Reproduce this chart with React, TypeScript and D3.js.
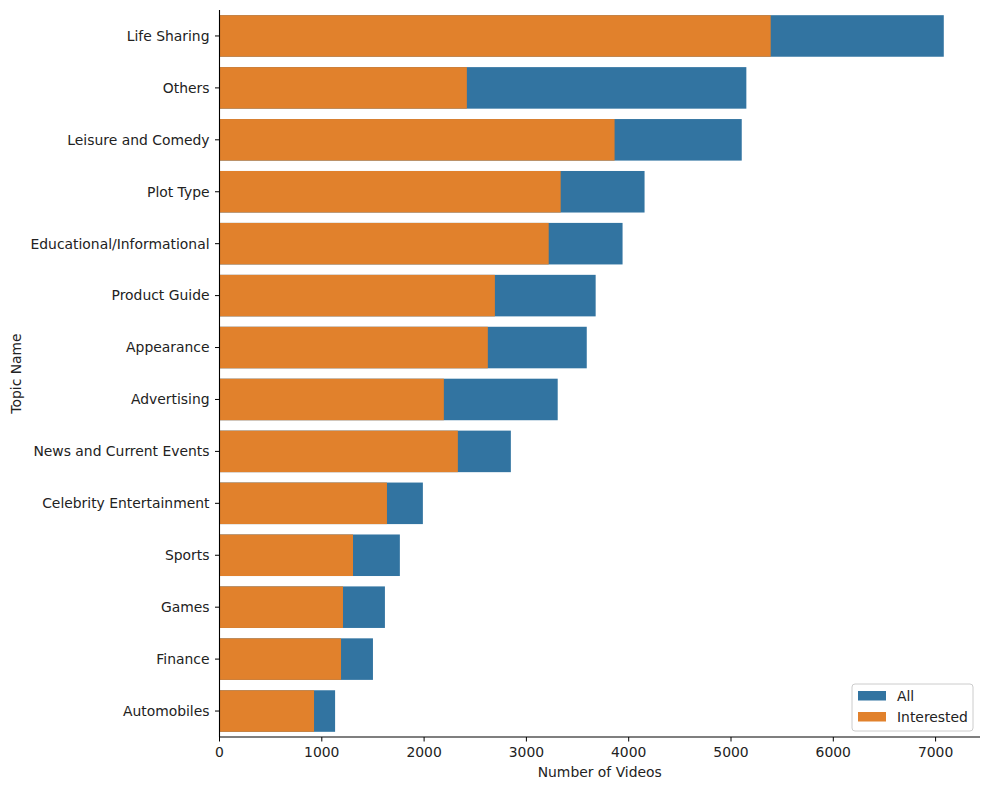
import * as d3 from 'd3'

// topics, sorted by total count
const topics = [
	'Life Sharing',
	'Others',
	'Leisure and Comedy',
	'Plot Type',
	'Educational/Informational',
	'Product Guide',
	'Appearance',
	'Advertising',
	'News and Current Events',
	'Celebrity Entertainment',
	'Sports',
	'Games',
	'Finance',
	'Automobiles',
]
const allVideos = [7080, 5150, 5105, 4155, 3940, 3677, 3590, 3306, 2848, 1988, 1763, 1617, 1500, 1130]
const interestedVideos = [5388, 2418, 3862, 3335, 3218, 2692, 2623, 2193, 2330, 1637, 1305, 1207, 1188, 924]
const xTicks = [0, 1000, 2000, 3000, 4000, 5000, 6000, 7000]

const colorAll = '#3274a1'
const colorInterested = '#e1812c'

const width = 989
const height = 790
const marginTop = 10
const marginRight = 9
const marginBottom = 53
const marginLeft = 219.5
const font = 'DejaVu Sans, sans-serif'
const fs = 13.9

const App = () => {
	const x = d3
		.scaleLinear()
		.domain([0, d3.max(allVideos)! * 1.05])
		.range([marginLeft, width - marginRight])

	const y = d3
		.scaleBand()
		.domain(topics)
		.range([marginTop, height - marginBottom])
		.paddingInner(0.2)
		.paddingOuter(0.1)

	const axisY = height - marginBottom
	const legendX = 852
	const legendY = 684

	return (
		<svg width={width} height={height} style={{ display: 'block', position: 'absolute', left: 0, top: 0 }} fontFamily={font}>
			{/* total bars first, interested drawn on top */}
			{topics.map((t, i) => (
				<rect key={'a' + t} x={x(0)} y={y(t)} width={x(allVideos[i]) - x(0)} height={y.bandwidth()} fill={colorAll} />
			))}
			{topics.map((t, i) => (
				<rect
					key={'i' + t}
					x={x(0)}
					y={y(t)}
					width={x(interestedVideos[i]) - x(0)}
					height={y.bandwidth()}
					fill={colorInterested}
				/>
			))}

			{/* y axis */}
			<line x1={marginLeft} x2={marginLeft} y1={marginTop} y2={axisY} stroke="#000" strokeWidth={1.1} />
			{topics.map((t) => {
				const cy = y(t)! + y.bandwidth() / 2
				return (
					<g key={'yt' + t}>
						<line x1={marginLeft - 4.5} x2={marginLeft} y1={cy} y2={cy} stroke="#000" strokeWidth={1} />
						<text x={marginLeft - 10} y={cy} dy="0.35em" textAnchor="end" fontSize={fs} fill="#222">
							{t}
						</text>
					</g>
				)
			})}
			<text
				transform={`translate(21,${(marginTop + axisY) / 2}) rotate(-90)`}
				textAnchor="middle"
				fontSize={fs}
				fill="#222"
			>
				Topic Name
			</text>

			{/* x axis */}
			<line x1={marginLeft} x2={width - marginRight} y1={axisY} y2={axisY} stroke="#000" strokeWidth={1.1} />
			{xTicks.map((v) => (
				<g key={'xt' + v}>
					<line x1={x(v)} x2={x(v)} y1={axisY} y2={axisY + 4.5} stroke="#000" strokeWidth={1} />
					<text x={x(v)} y={axisY + 20} textAnchor="middle" fontSize={fs} fill="#222">
						{v}
					</text>
				</g>
			))}
			<text x={(marginLeft + width - marginRight) / 2} y={axisY + 40} textAnchor="middle" fontSize={fs} fill="#222">
				Number of Videos
			</text>

			{/* legend */}
			<rect
				x={legendX}
				y={legendY}
				width={121}
				height={47}
				rx={3}
				fill="#fff"
				fillOpacity={0.8}
				stroke="#ccc"
				strokeWidth={1}
			/>
			{[
				['All', colorAll],
				['Interested', colorInterested],
			].map(([label, c], i) => (
				<g key={label} transform={`translate(${legendX + 6},${legendY + 7 + i * 21})`}>
					<rect x={0} y={0} width={28} height={9.5} fill={c} />
					<text x={39} y={10} fontSize={fs} fill="#222">
						{label}
					</text>
				</g>
			))}
		</svg>
	)
}

export default App
